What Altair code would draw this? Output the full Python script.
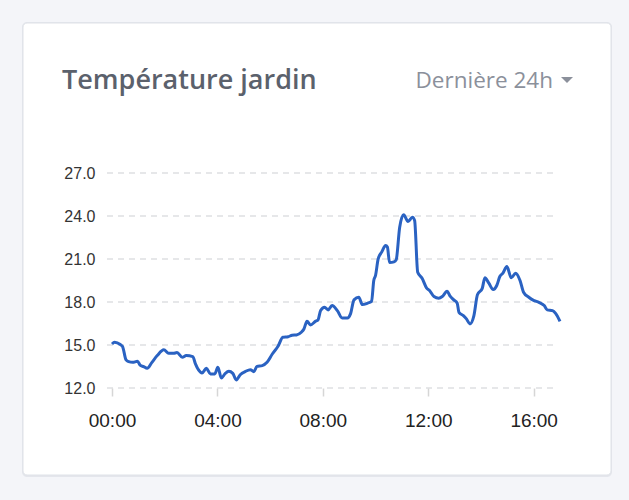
import altair as alt
import pandas as pd

# ---- data ----
times = ["0:00","0:06","0:19","0:24","0:32","0:38","0:47","0:58","1:04","1:12","1:20","1:31","1:43","1:58",
         "2:09","2:20","2:28","2:40","2:49","3:04","3:10","3:17","3:25","3:35","3:44","3:54","4:01","4:09",
         "4:18","4:26","4:35","4:43","4:52","5:04","5:15","5:23","5:30","5:42","5:53","6:05","6:18","6:29",
         "6:41","6:50","7:00","7:11","7:17","7:24","7:32","7:43","7:49","7:55","8:04","8:12","8:21","8:33",
         "8:44","8:56","9:03","9:11","9:22","9:30","9:41","9:51","9:56","10:00","10:06","10:14","10:23",
         "10:27","10:32","10:42","10:47","10:55","11:04","11:14","11:24","11:29","11:36","11:46","11:56",
         "12:03","12:13","12:24","12:32","12:43","12:49","12:58","13:06","13:10","13:20","13:27","13:35",
         "13:44","13:52","14:03","14:09","14:18","14:28","14:36","14:43","14:50","14:59","15:09","15:19",
         "15:29","15:37","15:49","16:01","16:12","16:24","16:31","16:43","16:50","17:00"]
temps = [15.07,15.19,15.03,14.90,13.96,13.84,13.79,13.86,13.60,13.49,13.37,13.79,14.26,14.66,
         14.42,14.42,14.47,14.14,14.26,14.19,13.68,13.26,13.05,13.37,12.98,12.98,13.44,12.70,
         13.02,13.16,13.02,12.56,12.93,13.16,13.28,13.14,13.51,13.56,13.79,14.37,14.91,15.54,
         15.58,15.68,15.70,15.89,16.12,16.65,16.40,16.65,16.75,17.40,17.63,17.45,17.75,17.40,
         16.89,16.89,17.17,18.15,18.33,17.82,17.91,18.05,19.50,19.85,21.01,21.48,21.94,
         21.83,20.75,20.80,20.94,23.22,24.09,23.62,23.92,23.69,20.08,19.66,18.99,
         18.80,18.38,18.26,18.38,18.75,18.45,18.15,17.91,17.28,17.05,16.82,16.47,
         17.05,18.50,18.95,19.69,19.31,18.87,19.15,19.78,20.01,20.48,19.69,20.01,
         19.50,18.68,18.33,18.10,17.98,17.75,17.45,17.40,17.21,16.65]
x_ticks = [0, 4, 8, 12, 16]
y_ticks = [12, 15, 18, 21, 24, 27]
title_text = "Température jardin"
range_text = "Dernière 24h"

hours = [int(t.split(":")[0]) + int(t.split(":")[1]) / 60 for t in times]
df = pd.DataFrame({"h": hours, "temp": temps})
grid_df = pd.DataFrame({"v": y_ticks})
one = pd.DataFrame({"k": [0]})

W, H = 448, 215
FONT = "Liberation Sans"
HFONT = "Open Sans"

xscale = alt.Scale(domain=[0, 17], nice=False, zero=False)
yscale = alt.Scale(domain=[12, 27], nice=False, zero=False)

y_axis = alt.Axis(values=y_ticks, format=".1f", grid=False, domain=False, ticks=False,
                  labelFontSize=16, labelColor="#333333", labelFont=FONT, labelPadding=17,
                  labelFlush=False, zindex=1)

card_shadow = alt.Chart(one).mark_rect(fill="#e4e6ec", cornerRadius=5).encode(
    x=alt.value(-90), x2=alt.value(500), y=alt.value(-151), y2=alt.value(304))
card = alt.Chart(one).mark_rect(fill="white", stroke="#dfe2e8", strokeWidth=1, cornerRadius=4).encode(
    x=alt.value(-89), x2=alt.value(499), y=alt.value(-150), y2=alt.value(302))

title = alt.Chart(one).mark_text(
    text=title_text, font=HFONT, fontSize=27, fontWeight=600, color="#5b616c",
    align="left", baseline="alphabetic").encode(x=alt.value(-50), y=alt.value(-84))
rng = alt.Chart(one).mark_text(
    text=range_text, font=HFONT, fontSize=22.5, fontWeight="normal", color="#8b909b",
    align="right", baseline="alphabetic").encode(x=alt.value(441), y=alt.value(-85))
caret = alt.Chart(one).mark_point(
    shape="M-1,-0.5L1,-0.5L0,0.5Z", filled=True, fill="#8b909b", strokeWidth=0, size=144, opacity=1
).encode(x=alt.value(455), y=alt.value(-93))

grid = alt.Chart(grid_df).mark_rule(strokeDash=[6, 5], color="#dedfe2", strokeWidth=1.5).encode(
    y=alt.Y("v:Q", scale=yscale, axis=y_axis, title=None),
    x=alt.value(-5), x2=alt.value(441))

line = alt.Chart(df).mark_line(color="#2a62c2", strokeWidth=3, interpolate="monotone").encode(
    x=alt.X("h:Q", scale=xscale, title=None,
            axis=alt.Axis(values=x_ticks, grid=False, domain=False, ticks=True, tickSize=8,
                          tickColor="#d6d6d6", tickWidth=1.5, labelFontSize=19, labelColor="#222222",
                          labelFont=FONT, labelPadding=15, labelFlush=False, zindex=1,
                          labelExpr="(datum.value < 10 ? '0' : '') + datum.value + ':00'")),
    y=alt.Y("temp:Q", scale=yscale, title=None, axis=y_axis))

chart = alt.layer(card_shadow, card, title, rng, caret, grid, line).properties(
    width=W, height=H,
    autosize=alt.AutoSizeParams(type="none"),
    padding={"left": 112, "top": 173, "right": 69, "bottom": 112},
    background="#f4f5f9",
).configure_view(stroke=None)

chart.save("out.html", embed_options={"renderer": "svg", "actions": False})
